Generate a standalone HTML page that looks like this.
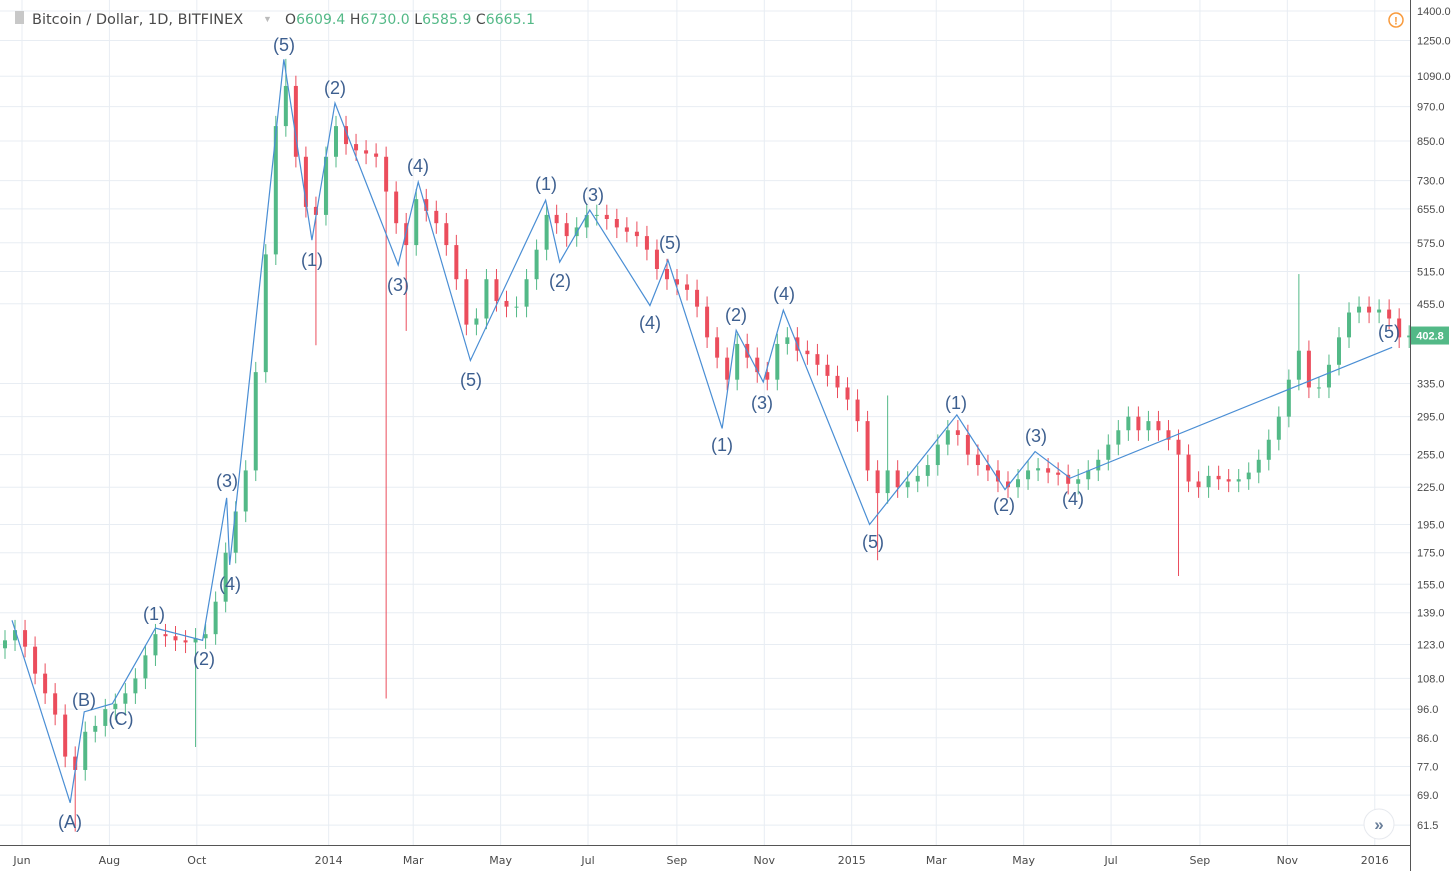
<!DOCTYPE html>
<html><head><meta charset="utf-8"><style>
body{margin:0;background:#fff;font-family:"Liberation Sans",sans-serif;}
svg{display:block}
</style></head><body>
<svg id="chart" width="1456" height="871" xmlns="http://www.w3.org/2000/svg">
<rect x="0" y="0" width="1456" height="871" fill="#fff"/>
<g id="grid"></g><g id="candles"></g><g id="waves"></g><g id="axes"></g>
<g>
<rect x="15" y="11" width="9" height="13" fill="#c8c8c8"/>
<text x="32" y="24" font-size="14.5" font-family="DejaVu Sans, sans-serif" fill="#4a4a4a">Bitcoin / Dollar, 1D, BITFINEX</text>
<text x="263" y="22" font-size="9" fill="#bbb">▼</text>
<text x="285" y="24" font-size="14" font-family="DejaVu Sans, sans-serif" textLength="250"><tspan fill="#4a4a4a">O</tspan><tspan fill="#53b987">6609.4 </tspan><tspan fill="#4a4a4a">H</tspan><tspan fill="#53b987">6730.0 </tspan><tspan fill="#4a4a4a">L</tspan><tspan fill="#53b987">6585.9 </tspan><tspan fill="#4a4a4a">C</tspan><tspan fill="#53b987">6665.1</tspan></text>
</g>
<g><circle cx="1396" cy="20" r="7" fill="none" stroke="#f89a3c" stroke-width="1.5"/><text x="1396" y="24.5" font-size="11" fill="#f89a3c" text-anchor="middle" font-weight="bold">!</text></g>
<g><circle cx="1379" cy="824" r="15" fill="#fff" stroke="#e6e9ee"/><text x="1379" y="830" font-size="17" fill="#6a7f9a" text-anchor="middle" font-weight="bold">»</text></g>
</svg>
<script>
const closes=[125,130,122,110,102,94,80,76,88,90,96,98,102,108,118,128,127,125,124,126,128,145,175,205,240,350,550,900,1050,800,660,640,800,900,840,820,810,800,700,620,570,680,650,620,570,500,420,430,500,460,450,450,500,560,640,620,590,610,640,640,630,610,600,590,560,520,500,490,480,450,400,370,340,390,370,350,340,390,400,380,375,360,345,330,315,290,240,220,240,225,230,235,245,265,280,275,255,245,240,230,225,232,240,242,238,236,228,232,240,250,265,280,295,280,290,280,270,255,230,225,235,232,230,232,238,250,270,295,340,380,330,330,360,400,440,450,440,445,430,400,402.8];
const spikeIdx=[7,19,31,38,40,87,117,28,129,88];
const spikeVal=[60,83,388,100,410,170,160,1165,510,320];
const waveIdx=[0.7,6.5,7.9,10.7,15,19.7,22.1,22.4,27.8,30.6,32.9,39.2,41.2,46.4,53.9,55.3,58.3,64.3,66.1,71.5,72.9,75.6,77.6,86.2,94.9,99.7,102.7,106.2,138.3];
const wavePrice=[135,67,95,98,131,125,216,167,1163,581,983,528,726,366,677,534,652,452,538,282,411,337,444,195,297,223,258,233,385];
const waveLabels=["(A)","(B)","(C)","(1)","(2)","(3)","(4)","(5)","(1)","(2)","(3)","(4)","(5)","(1)","(2)","(3)","(4)","(5)","(1)","(2)","(3)","(4)","(5)","(1)","(2)","(3)","(4)","(5)"];
const labelPos=[[70,822],[84,700],[121,719],[154,614],[204,659],[227,481],[230,584],[284,45],[312,260],[335,88],[398,285],[418,166],[471,380],[546,184],[560,281],[593,195],[650,323],[670,243],[722,445],[736,315],[762,403],[784,294],[873,542],[956,403],[1004,505],[1036,436],[1073,499],[1389,332]];
const priceTicks=[1400,1250,1090,970,850,730,655,575,515,455,335,295,255,225,195,175,155,139,123,108,96,86,77,69,61.5];
const timeLabels=["Jun","Aug","Oct","2014","Mar","May","Jul","Sep","Nov","2015","Mar","May","Jul","Sep","Nov","2016"];
const timeDays=[0,61,122,214,273,334,395,457,518,579,638,699,760,822,883,944];

const NS="http://www.w3.org/2000/svg";
function yS(p){return 11+(Math.log(1400)-Math.log(p))*260.5;}
function xI(i){return 5+i*10.03;}
function xD(d){return 22+d*1.433;}
function mk(tag,attrs,parent){const e=document.createElementNS(NS,tag);for(const k in attrs)e.setAttribute(k,attrs[k]);parent.appendChild(e);return e;}
const grid=document.getElementById('grid'),cg=document.getElementById('candles'),wg=document.getElementById('waves'),ag=document.getElementById('axes');
priceTicks.forEach(p=>{const y=yS(p);
 const l=mk('line',{x1:0,x2:1410,y1:y,y2:y,stroke:'#e8edf3'},grid);
 
 
 const t=mk('text',{x:1417,y:y+4,'font-size':11,fill:'#4a4a4a'},ag);t.textContent=p.toFixed(1);
 
 
});
timeDays.forEach((d,k)=>{const x=xD(d);
 const l=mk('line',{x1:x,x2:x,y1:0,y2:845,stroke:'#e8edf3'},grid);
 
 
 const t=mk('text',{x:x,y:864,'font-size':11,fill:'#4a4a4a','text-anchor':'middle','font-family':'DejaVu Sans, sans-serif'},ag);t.textContent=timeLabels[k];
 
 
});
mk('line',{x1:1410.5,x2:1410.5,y1:0,y2:871,stroke:'#555'},ag);
mk('line',{x1:0,x2:1410,y1:845.5,y2:845.5,stroke:'#555'},ag);
closes.forEach((c,i)=>{const o=i?closes[i-1]:c*0.97;const up=c>=o;
 let hi=Math.max(o,c)*1.04,lo=Math.min(o,c)*0.96;
 const s=spikeIdx.indexOf(i);if(s>=0){if(spikeVal[s]>hi)hi=spikeVal[s];else lo=spikeVal[s];}
 const col=up?'#53b987':'#eb4d5c';const x=xI(i);
 const w=mk('line',{x1:x,x2:x,y1:yS(hi),y2:yS(lo),stroke:col,'stroke-width':1},cg);
 
 
 const yt=yS(Math.max(o,c)),yb=yS(Math.min(o,c));
 const b=mk('rect',{x:x-2,y:yt,width:4,height:Math.max(1,yb-yt),fill:col},cg);
 
 
});
const pts=waveIdx.map((v,i)=>xI(v)+','+yS(wavePrice[i])).join(' ');
const pl=mk('polyline',{points:pts,fill:'none',stroke:'#4a8ed4','stroke-width':1.2},wg);


waveLabels.forEach((s,i)=>{const t=mk('text',{x:labelPos[i][0],y:labelPos[i][1]+6,'font-size':18,fill:'#3d5f8f','text-anchor':'middle'},wg);t.textContent=s;
 
 
});
const py=yS(closes[closes.length-1]);
const tag=mk('rect',{x:1411,y:py-9,width:38,height:18,fill:'#53b987'},ag);


const tt=mk('text',{x:1430,y:py+4,'font-size':11,fill:'#fff','font-weight':'bold','text-anchor':'middle'},ag);tt.textContent=closes[closes.length-1].toFixed(1);


</script>
</body></html>
